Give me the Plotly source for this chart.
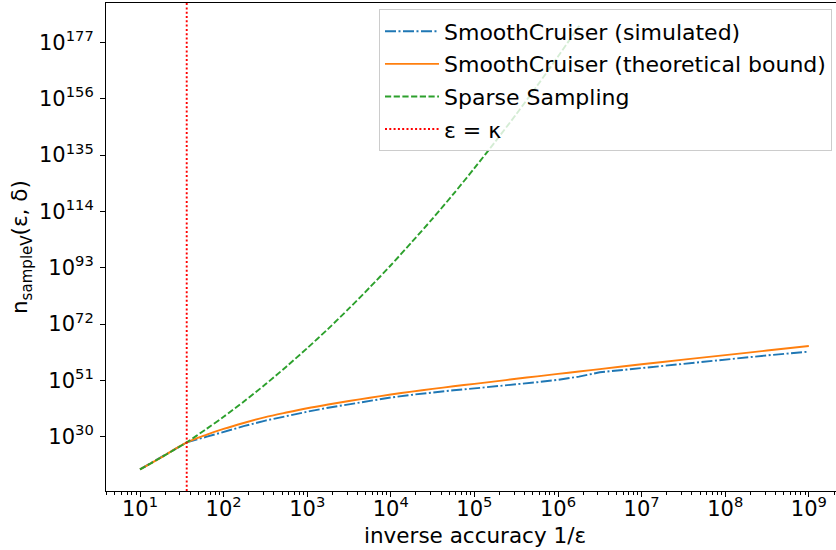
import numpy as np
import plotly.graph_objects as go

# log10 of inverse accuracy 1/eps for the SmoothCruiser curves
inv_acc_exp = [1.0, 1.25, 1.559, 1.8, 2.0, 2.25, 2.5, 2.75, 3.0, 3.25, 3.5, 3.75, 4.0,
               4.25, 4.5, 4.75, 5.0, 5.25, 5.5, 5.75, 6.0, 6.25, 6.5, 7.0, 7.5, 8.0, 8.5, 9.0]
# log10 of n_sampleV(eps, delta)
simulated_exp = [17.8, 22.2, 27.9, 30.0, 31.8, 34.0, 36.0, 37.7, 39.3, 40.8, 42.1, 43.4, 44.6,
                 45.6, 46.5, 47.3, 48.0, 48.7, 49.5, 50.3, 51.2, 52.4, 54.0, 55.6, 57.3, 58.8, 60.3, 61.7]
theoretical_exp = [17.8, 22.2, 27.9, 30.8, 32.9, 35.2, 37.3, 39.0, 40.6, 42.0, 43.3, 44.5, 45.7,
                   46.8, 47.8, 48.8, 49.7, 50.6, 51.6, 52.5, 53.4, 54.3, 55.2, 57.0, 58.7, 60.4, 62.1, 63.8]
# Sparse Sampling curve
sparse_x_exp = [1.0, 1.25, 1.559, 1.8, 2.0, 2.25, 2.5, 2.75, 3.0, 3.25, 3.5, 3.75, 4.0,
                4.25, 4.5, 4.75, 5.0, 5.25, 5.5, 5.75, 6.0, 6.255]
sparse_exp = [17.8, 22.2, 27.9, 33.0, 37.4, 43.3, 49.5, 56.1, 63.0, 70.2, 77.8, 85.7, 93.9,
              102.5, 111.3, 120.5, 130.1, 140.0, 150.2, 160.8, 171.7, 183.2]
# eps = kappa  (as inverse accuracy)
kappa_inv = 36.2

x_tick_exps = [1, 2, 3, 4, 5, 6, 7, 8, 9]
y_tick_exps = [30, 51, 72, 93, 114, 135, 156, 177]

FONT = "DejaVu Sans"

x_sc = np.power(10.0, inv_acc_exp)
x_sp = np.power(10.0, sparse_x_exp)

fig = go.Figure()
fig.add_trace(go.Scatter(x=x_sc, y=np.power(10.0, simulated_exp), mode="lines",
                         name="SmoothCruiser (simulated)", legendgroup="a",
                         line=dict(color="#1f77b4", width=1.9, dash="11px,2.5px,2px,2.5px")))
fig.add_trace(go.Scatter(x=x_sc, y=np.power(10.0, theoretical_exp), mode="lines",
                         name="SmoothCruiser (theoretical bound)", legendgroup="b",
                         line=dict(color="#ff7f0e", width=1.9, shape="spline", smoothing=0.8)))
fig.add_trace(go.Scatter(x=x_sp, y=np.power(10.0, sparse_exp), mode="lines",
                         name="Sparse Sampling", legendgroup="c",
                         line=dict(color="#2ca02c", width=1.9, dash="6.2px,2.5px",
                                   shape="spline", smoothing=0.8)))
fig.add_shape(type="line", xref="x", yref="paper", x0=kappa_inv, x1=kappa_inv, y0=0, y1=1,
              line=dict(color="red", width=1.9, dash="2px,2.3px"),
              showlegend=True, name="ε = κ", legendgroup="d")

minor_vals = [k * 10.0 ** n for n in range(0, 10) for k in range(2, 10)
              if 0.5933 < np.log10(k * 10.0 ** n) < 9.325]

fig.update_xaxes(type="log", range=[0.5933, 9.325],
                 tickvals=[10.0 ** e for e in x_tick_exps],
                 ticktext=[f"10<sup>{e}</sup>" for e in x_tick_exps],
                 ticks="outside", ticklen=5, tickwidth=1.1, tickcolor="black",
                 showline=True, linecolor="black", linewidth=1.1, mirror=True,
                 showgrid=False, zeroline=False, ticklabelstandoff=-6,
                 tickfont=dict(family=FONT, size=21, color="black"),
                 minor=dict(tickvals=minor_vals, ticks="outside", ticklen=3,
                            tickwidth=0.8, tickcolor="black", showgrid=False))
fig.update_yaxes(type="log", range=[9.75, 191.66],
                 tickvals=[10.0 ** e for e in y_tick_exps],
                 ticktext=[f"10<sup>{e}</sup>" for e in y_tick_exps],
                 ticks="outside", ticklen=5, tickwidth=1.1, tickcolor="black",
                 showline=True, linecolor="black", linewidth=1.1, mirror=False,
                 showgrid=False, zeroline=False, ticklabelstandoff=2,
                 tickfont=dict(family=FONT, size=21, color="black"))

fig.add_annotation(text="inverse accuracy 1/ε", xref="paper", yref="paper",
                   x=0.5055, y=-0.0902, xanchor="center", yanchor="middle",
                   showarrow=False, font=dict(family=FONT, size=21.5, color="black"))
fig.add_annotation(text="n<sub>sampleV</sub>(ε, δ)", xref="paper", yref="paper",
                   x=-0.1164, y=0.5, xanchor="center", yanchor="middle", textangle=-90,
                   showarrow=False, font=dict(family=FONT, size=21.5, color="black"))

fig.update_layout(
    width=836, height=550,
    margin=dict(l=106, r=0, t=3, b=59),
    paper_bgcolor="white", plot_bgcolor="white",
    font=dict(family=FONT, size=21, color="black"),
    hovermode=False,
    legend=dict(x=0.9945, y=0.9868, xanchor="right", yanchor="top",
                bgcolor="rgba(255,255,255,0.8)", bordercolor="#cccccc", borderwidth=1,
                font=dict(family=FONT, size=22, color="black"), itemwidth=54,
                tracegroupgap=1),
)

fig.write_html("out.html", config={"displayModeBar": False},
               post_script="document.body.style.margin='0';document.body.style.overflow='hidden';")
